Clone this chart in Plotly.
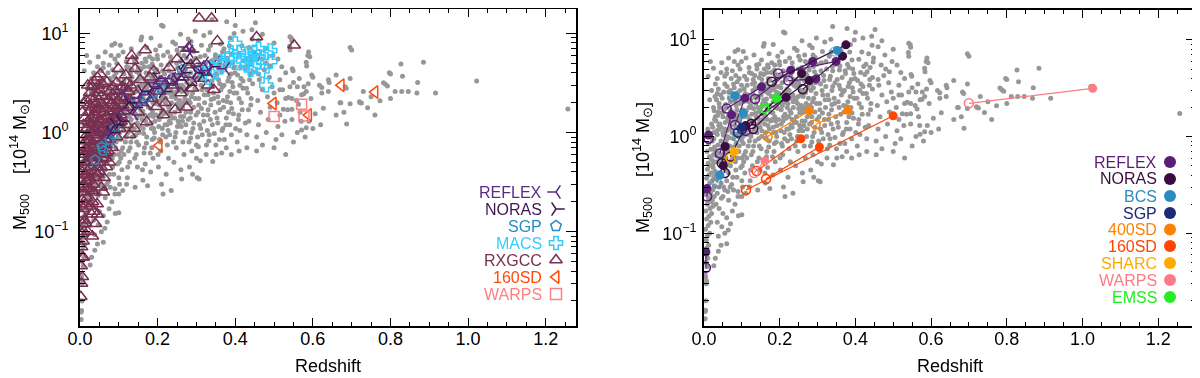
import plotly.graph_objects as go

# ---------------------------------------------------------------- data
# background catalogue (same in both panels), (redshift, M500 [1e14 Msun])
grey_lowz = [
    (0.003, 0.013), (0.004, 0.016), (0.005, 0.02), (0.006, 0.03), (0.004, 0.035), (0.008, 0.045),
    (0.005, 0.05), (0.01, 0.055), (0.004, 0.062), (0.007, 0.07), (0.012, 0.075), (0.006, 0.085),
    (0.009, 0.095), (0.015, 0.1), (0.004, 0.11), (0.011, 0.12), (0.018, 0.13), (0.007, 0.14),
    (0.013, 0.15), (0.02, 0.16), (0.005, 0.17), (0.016, 0.18), (0.024, 0.19), (0.009, 0.2),
    (0.02, 0.21), (0.012, 0.23), (0.027, 0.24), (0.006, 0.25), (0.017, 0.26), (0.023, 0.28),
    (0.01, 0.3), (0.028, 0.31), (0.015, 0.33), (0.021, 0.35), (0.007, 0.37), (0.026, 0.38),
    (0.013, 0.4), (0.019, 0.42), (0.029, 0.44), (0.009, 0.46), (0.024, 0.48), (0.016, 0.5),
    (0.011, 0.53), (0.027, 0.55), (0.02, 0.58), (0.014, 0.62), (0.025, 0.65), (0.008, 0.7),
    (0.018, 0.74), (0.028, 0.78), (0.012, 0.85), (0.022, 0.9), (0.016, 1.0), (0.026, 1.1),
    (0.01, 1.2), (0.02, 1.35), (0.028, 1.5), (0.003, 0.037), (0.007, 0.032), (0.003, 0.0155),
    (0.026, 0.046), (0.03, 0.055), (0.038, 0.065), (0.045, 0.075), (0.06, 0.078), (0.038, 0.093),
    (0.055, 0.1), (0.064, 0.108), (0.047, 0.117), (0.07, 0.125), (0.035, 0.13), (0.091, 0.152),
    (0.082, 0.2), (0.075, 0.17), (0.06, 0.145), (0.05, 0.16), (0.04, 0.18), (0.065, 0.22),
    (0.1, 0.24), (0.09, 0.27), (0.11, 0.26), (0.12, 0.3), (0.1, 0.155), (0.09, 0.24),
    (0.032, 0.2), (0.035, 0.26), (0.04, 0.3), (0.033, 0.36), (0.045, 0.33), (0.05, 0.24),
    (0.055, 0.28), (0.042, 0.42), (0.06, 0.35), (0.048, 0.5), (0.036, 0.55), (0.065, 0.42),
    (0.058, 0.6), (0.07, 0.5), (0.04, 0.68), (0.052, 0.75), (0.075, 0.62), (0.068, 0.8),
    (0.045, 0.9), (0.08, 0.72), (0.062, 1.0), (0.085, 0.85), (0.035, 1.05), (0.074, 1.1),
    (0.055, 1.2), (0.09, 1.0), (0.042, 1.35), (0.066, 1.45), (0.082, 1.3), (0.095, 1.2),
    (0.05, 1.6), (0.075, 1.7), (0.088, 1.55), (0.038, 1.8), (0.06, 2.0), (0.098, 1.8),
    (0.07, 2.3), (0.085, 2.1), (0.048, 2.5), (0.092, 2.6), (0.065, 2.9), (0.08, 3.2),
    (0.055, 3.5), (0.095, 3.0), (0.072, 4.0), (0.088, 3.7), (0.04, 2.2), (0.03, 1.6),
    (0.078, 0.95), (0.058, 0.85), (0.047, 0.65), (0.083, 0.55), (0.092, 0.7), (0.097, 0.48),
    (0.087, 0.38), (0.073, 0.32), (0.063, 0.27), (0.078, 0.28), (0.1, 0.35), (0.1, 0.6),
    (0.1, 0.9), (0.05, 1.1), (0.07, 1.3), (0.04, 1.2), (0.011, 4.2), (0.025, 5.1),
    (0.047, 5.8), (0.082, 7.6), (0.09, 7.9), (0.017, 6.0), (0.02, 3.0), (0.03, 3.5),
    (0.015, 2.4), (0.06, 4.5), (0.095, 5.0), (0.06, 5.0), (0.045, 4.6), (0.09, 5.5),
    (0.08, 6.0), (0.035, 2.8), (0.025, 2.0), (0.065, 1.65), (0.053, 1.9), (0.085, 2.5),
    (0.022, 0.22), (0.027, 0.3), (0.031, 0.4), (0.024, 0.52), (0.033, 0.63), (0.029, 0.71),
    (0.037, 0.82), (0.026, 0.95), (0.034, 1.15), (0.039, 1.3), (0.023, 1.25), (0.032, 1.45),
    (0.036, 1.65), (0.027, 1.85), (0.041, 2.0), (0.033, 2.4), (0.044, 2.7), (0.038, 3.1),
    (0.029, 2.6), (0.046, 0.23), (0.052, 0.3), (0.043, 0.38), (0.057, 0.45), (0.049, 0.55),
    (0.061, 0.52), (0.044, 0.6), (0.054, 0.68), (0.063, 0.73), (0.048, 0.8), (0.059, 0.92),
    (0.066, 0.97), (0.051, 1.03), (0.06, 1.15), (0.045, 1.25), (0.068, 1.2), (0.056, 1.4),
    (0.062, 1.55), (0.048, 1.75), (0.071, 1.85), (0.057, 2.15), (0.067, 2.5), (0.052, 2.9),
    (0.074, 2.75), (0.061, 3.3), (0.078, 3.5), (0.069, 0.3), (0.076, 0.38), (0.084, 0.45),
    (0.071, 0.56), (0.089, 0.6), (0.079, 0.78), (0.093, 0.8), (0.082, 1.05), (0.096, 1.05),
    (0.086, 1.25), (0.079, 1.45), (0.093, 1.45), (0.084, 1.7), (0.099, 1.6), (0.087, 1.9),
    (0.094, 2.2), (0.081, 2.35), (0.098, 2.45), (0.089, 2.85), (0.099, 3.4), (0.084, 4.3),
    (0.093, 4.0), (0.075, 4.8), (0.099, 6.0), (0.065, 6.5), (0.035, 4.0), (0.055, 4.2),
    (0.07, 3.0),
]

grey_midz = [
    (0.102, 0.3), (0.108, 0.42), (0.105, 0.55), (0.11, 0.7), (0.104, 0.85), (0.112, 1.05),
    (0.106, 1.3), (0.115, 1.6), (0.103, 1.9), (0.118, 2.3), (0.109, 2.8), (0.114, 3.4),
    (0.107, 4.2), (0.119, 5.2), (0.111, 6.5), (0.104, 7.6),
    (0.122, 0.35), (0.128, 0.5), (0.125, 0.65), (0.131, 0.8), (0.124, 1.0), (0.133, 1.2),
    (0.127, 1.45), (0.136, 1.75), (0.123, 2.1), (0.138, 2.5), (0.129, 3.0), (0.134, 3.6),
    (0.126, 4.5), (0.139, 5.5), (0.132, 7.0),
    (0.142, 0.28), (0.148, 0.45), (0.145, 0.6), (0.151, 0.75), (0.144, 0.95), (0.153, 1.15),
    (0.147, 1.4), (0.156, 1.7), (0.143, 2.0), (0.158, 2.4), (0.149, 2.9), (0.154, 3.5),
    (0.146, 4.1), (0.159, 5.0), (0.152, 6.2), (0.157, 8.6), (0.159, 9.2),
    (0.162, 0.33), (0.168, 0.48), (0.165, 0.62), (0.171, 0.78), (0.164, 0.98), (0.173, 1.2),
    (0.167, 1.5), (0.176, 1.8), (0.163, 2.2), (0.178, 2.6), (0.169, 3.1), (0.174, 3.8),
    (0.166, 4.6), (0.179, 5.8), (0.172, 7.2),
    (0.174, 0.29), (0.182, 0.4), (0.188, 0.55), (0.185, 0.7), (0.191, 0.88), (0.184, 1.1),
    (0.193, 1.3), (0.187, 1.6), (0.196, 1.95), (0.183, 2.3), (0.198, 2.8), (0.189, 3.3),
    (0.194, 4.0), (0.186, 4.9), (0.199, 6.0), (0.183, 9.0),
    (0.115, 1.2), (0.125, 2.0), (0.135, 2.6), (0.145, 1.8), (0.155, 2.2), (0.165, 2.9),
    (0.175, 3.3), (0.185, 3.6), (0.195, 2.4), (0.12, 0.9), (0.14, 1.1), (0.16, 1.35),
    (0.18, 1.5), (0.19, 1.1), (0.13, 3.9), (0.15, 4.5), (0.17, 5.2), (0.19, 4.4),
    (0.101, 0.5), (0.106, 0.65), (0.113, 0.6), (0.117, 0.8), (0.103, 1.0), (0.109, 1.15),
    (0.116, 1.35), (0.121, 1.5), (0.105, 1.6), (0.112, 1.85), (0.119, 2.0), (0.104, 2.3),
    (0.111, 2.5), (0.117, 2.7), (0.106, 3.1), (0.113, 3.9), (0.12, 4.6), (0.123, 0.45),
    (0.129, 0.7), (0.135, 0.9), (0.127, 1.1), (0.132, 1.35), (0.138, 1.6), (0.126, 1.7),
    (0.131, 1.95), (0.137, 2.2), (0.124, 2.4), (0.13, 2.75), (0.136, 3.2), (0.128, 3.5),
    (0.134, 4.3), (0.14, 5.0), (0.141, 0.55), (0.146, 0.8), (0.152, 1.0), (0.148, 1.25),
    (0.155, 1.5), (0.143, 1.55), (0.149, 1.9), (0.153, 2.05), (0.158, 2.15), (0.144, 2.6),
    (0.151, 2.7), (0.157, 3.0), (0.147, 3.3), (0.153, 3.9), (0.158, 4.4), (0.145, 5.6),
    (0.161, 0.42), (0.166, 0.7), (0.172, 0.9), (0.163, 1.1), (0.169, 1.3), (0.176, 1.45),
    (0.162, 1.65), (0.168, 1.95), (0.174, 2.1), (0.165, 2.45), (0.171, 2.8), (0.177, 3.0),
    (0.164, 3.5), (0.17, 4.0), (0.178, 4.6), (0.168, 5.5), (0.181, 0.62), (0.186, 0.85),
    (0.192, 1.0), (0.183, 1.25), (0.189, 1.45), (0.197, 1.5), (0.182, 1.75), (0.188, 2.0),
    (0.194, 2.2), (0.185, 2.6), (0.191, 2.9), (0.197, 3.3), (0.184, 3.1), (0.19, 3.8),
    (0.198, 4.3), (0.187, 5.5), (0.195, 6.8),
    (0.202, 0.45), (0.208, 0.65), (0.205, 0.85), (0.212, 1.1), (0.204, 1.35), (0.214, 1.7),
    (0.207, 2.1), (0.216, 2.6), (0.203, 3.2), (0.218, 3.9), (0.209, 4.8), (0.215, 6.0),
    (0.206, 7.5), (0.214, 11.8), (0.21, 12.1),
    (0.222, 0.38), (0.228, 0.55), (0.225, 0.75), (0.231, 0.95), (0.224, 1.2), (0.233, 1.5),
    (0.227, 1.85), (0.236, 2.3), (0.223, 2.8), (0.238, 3.4), (0.229, 4.2), (0.234, 5.2),
    (0.226, 6.5), (0.239, 8.2),
    (0.242, 0.5), (0.248, 0.7), (0.245, 0.9), (0.251, 1.15), (0.244, 1.4), (0.253, 1.75),
    (0.247, 2.2), (0.256, 2.7), (0.243, 3.3), (0.258, 4.0), (0.249, 5.0), (0.254, 6.2),
    (0.246, 7.8), (0.259, 9.8),
    (0.262, 0.34), (0.268, 0.6), (0.265, 0.8), (0.271, 1.0), (0.264, 1.3), (0.273, 1.6),
    (0.267, 2.0), (0.276, 2.5), (0.263, 3.0), (0.278, 3.7), (0.269, 4.5), (0.274, 5.6),
    (0.266, 7.0), (0.279, 8.8),
    (0.282, 0.45), (0.288, 0.65), (0.285, 0.88), (0.291, 1.1), (0.284, 1.4), (0.293, 1.8),
    (0.287, 2.3), (0.296, 2.8), (0.283, 3.5), (0.298, 4.3), (0.289, 5.3), (0.294, 6.6),
    (0.286, 8.3), (0.297, 10.5),
    (0.21, 0.3), (0.235, 0.26), (0.26, 0.42), (0.29, 0.38), (0.22, 2.0), (0.24, 2.5),
    (0.26, 1.9), (0.28, 2.1), (0.25, 3.6), (0.27, 4.1), (0.23, 1.3), (0.21, 1.6),
    (0.255, 1.2), (0.285, 1.6), (0.3, 0.55), (0.3, 0.75), (0.214, 0.24),
    (0.201, 0.6), (0.207, 0.8), (0.213, 0.95), (0.219, 1.2), (0.203, 1.15), (0.209, 1.45),
    (0.216, 1.55), (0.204, 1.9), (0.211, 2.3), (0.218, 2.25), (0.205, 2.6), (0.212, 2.9),
    (0.219, 3.1), (0.206, 3.6), (0.213, 4.2), (0.2, 5.5), (0.221, 0.9), (0.227, 1.05),
    (0.233, 1.25), (0.239, 1.4), (0.224, 1.6), (0.23, 1.75), (0.236, 2.0), (0.222, 2.2),
    (0.228, 2.5), (0.235, 2.7), (0.225, 3.0), (0.231, 3.6), (0.237, 3.9), (0.227, 4.8),
    (0.233, 5.8), (0.241, 0.8), (0.247, 1.0), (0.253, 1.3), (0.259, 1.45), (0.244, 1.6),
    (0.25, 1.95), (0.257, 2.1), (0.243, 2.4), (0.249, 2.6), (0.255, 3.0), (0.245, 3.6),
    (0.252, 4.5), (0.258, 5.2), (0.25, 6.8), (0.261, 1.15), (0.267, 1.45), (0.273, 1.2),
    (0.279, 1.35), (0.264, 1.8), (0.27, 2.2), (0.277, 2.0), (0.262, 2.6), (0.268, 2.85),
    (0.275, 3.2), (0.265, 3.8), (0.272, 4.3), (0.278, 4.9), (0.268, 6.0), (0.281, 0.8),
    (0.287, 1.0), (0.293, 1.25), (0.299, 1.5), (0.284, 2.0), (0.29, 2.5), (0.297, 2.2),
    (0.283, 3.0), (0.289, 3.2), (0.295, 3.6), (0.285, 4.0), (0.292, 4.7), (0.298, 5.6),
    (0.288, 7.0),
]

grey_highz = [
    (0.302, 0.35), (0.31, 0.52), (0.305, 0.72), (0.315, 0.95), (0.308, 1.2), (0.318, 1.5),
    (0.306, 1.9), (0.32, 2.4), (0.312, 3.0), (0.317, 3.8), (0.309, 4.8), (0.322, 6.0),
    (0.313, 7.6), (0.319, 9.5), (0.307, 0.34),
    (0.325, 0.6), (0.332, 0.82), (0.328, 1.05), (0.336, 1.35), (0.33, 1.7), (0.338, 2.15),
    (0.327, 2.7), (0.34, 3.3), (0.334, 4.2), (0.339, 5.3), (0.331, 6.8), (0.34, 13.8),
    (0.335, 10.2),
    (0.342, 0.51), (0.35, 0.75), (0.346, 0.98), (0.355, 1.25), (0.348, 1.6), (0.357, 2.0),
    (0.344, 2.5), (0.36, 3.1), (0.352, 3.9), (0.358, 4.9), (0.349, 6.1), (0.362, 7.8),
    (0.365, 0.62), (0.372, 0.85), (0.368, 1.1), (0.377, 1.4), (0.37, 1.8), (0.38, 2.3),
    (0.367, 2.9), (0.384, 3.6), (0.374, 4.5), (0.379, 5.6), (0.371, 7.0), (0.378, 13.1),
    (0.387, 9.0), (0.377, 0.7),
    (0.39, 0.95), (0.386, 1.2), (0.395, 1.55), (0.388, 2.0), (0.397, 2.5), (0.392, 3.2),
    (0.399, 4.0), (0.393, 5.0), (0.397, 10.0),
    (0.405, 0.8), (0.412, 1.05), (0.408, 1.35), (0.418, 1.7), (0.41, 2.2), (0.42, 2.8),
    (0.415, 3.5), (0.425, 4.4), (0.43, 0.95), (0.435, 1.3), (0.44, 1.9), (0.432, 2.5),
    (0.445, 3.1), (0.438, 3.9), (0.443, 10.9), (0.452, 12.8), (0.428, 5.6), (0.448, 6.5),
    (0.303, 0.9), (0.311, 1.1), (0.319, 1.3), (0.304, 1.6), (0.313, 1.75), (0.321, 2.0),
    (0.306, 2.2), (0.314, 2.7), (0.322, 3.3), (0.308, 3.5), (0.316, 4.3), (0.324, 5.0),
    (0.31, 5.8), (0.326, 0.75), (0.333, 0.95), (0.341, 1.2), (0.329, 1.5), (0.337, 1.9),
    (0.345, 2.2), (0.33, 2.4), (0.338, 3.0), (0.346, 3.6), (0.332, 3.9), (0.34, 4.8),
    (0.348, 5.6), (0.336, 7.5), (0.351, 0.6), (0.359, 0.85), (0.366, 1.05), (0.353, 1.4),
    (0.361, 1.7), (0.369, 2.1), (0.355, 2.3), (0.363, 2.7), (0.371, 3.0), (0.357, 3.4),
    (0.365, 4.1), (0.373, 4.8), (0.359, 5.4), (0.367, 6.5), (0.376, 1.2), (0.383, 1.6),
    (0.391, 1.75), (0.378, 2.05), (0.386, 2.6), (0.394, 2.9), (0.381, 3.3), (0.389, 3.9),
    (0.396, 4.5), (0.383, 5.2), (0.391, 6.2), (0.385, 7.5), (0.401, 1.1), (0.409, 1.5),
    (0.416, 2.0), (0.404, 2.5), (0.412, 3.0), (0.42, 3.3), (0.406, 3.8), (0.414, 4.6),
    (0.422, 5.3), (0.409, 6.3), (0.417, 7.5), (0.426, 1.25), (0.434, 1.7), (0.441, 2.2),
    (0.429, 2.8), (0.437, 3.4), (0.445, 4.1), (0.431, 4.7), (0.439, 5.2), (0.447, 5.9),
    (0.435, 7.2), (0.444, 8.8), (0.42, 10.5), (0.4, 12.0), (0.43, 0.7), (0.39, 0.6),
    (0.41, 0.65),
    (0.455, 0.9), (0.46, 1.2), (0.465, 1.6), (0.458, 2.1), (0.47, 2.7), (0.462, 3.4),
    (0.475, 4.3), (0.468, 5.5), (0.478, 7.0),
    (0.48, 1.0), (0.485, 1.35), (0.49, 1.8), (0.483, 2.3), (0.495, 2.9), (0.488, 3.6),
    (0.49, 4.7), (0.497, 6.0),
    (0.505, 0.85), (0.51, 1.15), (0.515, 1.5), (0.508, 2.0), (0.515, 2.7), (0.522, 2.7),
    (0.515, 3.4), (0.52, 4.6),
    (0.528, 1.3), (0.535, 1.7), (0.537, 2.26), (0.541, 2.9), (0.546, 2.2), (0.541, 9.25),
    (0.546, 8.4), (0.541, 6.8), (0.545, 8.9), (0.54, 7.4), (0.547, 4.4), (0.549, 4.2),
    (0.55, 3.2), (0.524, 1.72), (0.546, 1.72), (0.546, 1.35), (0.558, 2.1), (0.56, 2.9),
    (0.563, 1.93), (0.567, 1.6), (0.571, 1.06), (0.571, 2.4), (0.576, 2.44), (0.577, 2.9),
    (0.583, 1.12), (0.583, 2.6), (0.583, 5.1), (0.587, 6.0), (0.588, 3.1), (0.589, 6.5),
    (0.592, 5.8), (0.597, 3.8), (0.584, 4.7), (0.6, 3.6),
    (0.455, 0.65), (0.47, 0.75), (0.5, 0.7), (0.52, 0.95), (0.53, 0.6), (0.55, 0.8),
    (0.56, 1.0), (0.58, 0.9), (0.6, 1.1), (0.46, 8.5), (0.47, 9.8), (0.5, 8.0),
    (0.48, 5.0), (0.51, 5.5), (0.53, 4.0), (0.565, 3.5), (0.46, 3.9), (0.5, 2.5),
    (0.53, 2.2), (0.57, 1.3), (0.595, 2.2), (0.59, 1.3),
    (0.606, 1.55), (0.617, 3.0), (0.623, 2.85), (0.623, 2.5), (0.627, 1.76), (0.64, 3.4),
    (0.642, 3.2), (0.67, 2.0), (0.672, 2.0), (0.683, 2.9), (0.686, 2.8), (0.687, 1.22),
    (0.696, 3.5), (0.696, 7.2), (0.696, 1.95), (0.70, 6.8), (0.72, 2.04), (0.722, 2.0),
    (0.725, 1.98), (0.741, 1.78), (0.773, 2.09), (0.782, 3.18), (0.787, 3.06), (0.792, 2.95),
    (0.797, 4.0), (0.80, 3.9), (0.812, 2.6), (0.827, 4.9), (0.829, 2.6), (0.831, 3.7),
    (0.846, 2.6), (0.868, 2.5), (0.885, 5.1), (0.916, 2.5), (1.022, 3.3), (1.257, 1.73),
    (0.66, 1.5), (0.75, 2.3), (0.62, 1.2), (0.64, 2.6), (0.66, 3.8), (0.68, 1.6),
    (0.73, 2.6), (0.76, 1.5), (0.8, 2.2), (0.87, 3.2),
]

# left panel: individual surveys
rxgcc = [
    (0.002, 0.022), (0.004, 0.03), (0.003, 0.045), (0.006, 0.055), (0.004, 0.07), (0.008, 0.08),
    (0.005, 0.095), (0.01, 0.1), (0.007, 0.12), (0.012, 0.13), (0.004, 0.15), (0.015, 0.12),
    (0.02, 0.1), (0.032, 0.09), (0.009, 0.17), (0.014, 0.19), (0.006, 0.21), (0.018, 0.22),
    (0.011, 0.25), (0.022, 0.27), (0.008, 0.3), (0.016, 0.32), (0.025, 0.35), (0.012, 0.38),
    (0.02, 0.41), (0.028, 0.45), (0.015, 0.5), (0.024, 0.55), (0.01, 0.6), (0.03, 0.62),
    (0.019, 0.68), (0.027, 0.75), (0.014, 0.82), (0.022, 0.9), (0.03, 1.0), (0.018, 1.1),
    (0.026, 1.25), (0.012, 1.4), (0.022, 1.6), (0.03, 1.8), (0.017, 2.1), (0.025, 2.5),
    (0.02, 3.0),
    (0.032, 0.2), (0.036, 0.25), (0.034, 0.3), (0.04, 0.35), (0.038, 0.4), (0.045, 0.45),
    (0.035, 0.5), (0.042, 0.56), (0.05, 0.6), (0.038, 0.66), (0.046, 0.72), (0.054, 0.8),
    (0.041, 0.88), (0.049, 0.95), (0.036, 1.05), (0.057, 1.1), (0.044, 1.2), (0.052, 1.35),
    (0.039, 1.5), (0.058, 1.6), (0.047, 1.75), (0.055, 2.0), (0.042, 2.3), (0.05, 2.7),
    (0.058, 3.1), (0.045, 3.6), (0.035, 0.16), (0.044, 0.19), (0.055, 0.28), (0.05, 0.4),
    (0.062, 0.35), (0.068, 0.45), (0.065, 0.55), (0.072, 0.65), (0.066, 0.75), (0.075, 0.85),
    (0.069, 0.95), (0.078, 1.1), (0.064, 1.2), (0.082, 1.3), (0.071, 1.45), (0.086, 1.6),
    (0.067, 1.75), (0.08, 1.9), (0.074, 2.1), (0.09, 2.3), (0.077, 2.6), (0.085, 2.9),
    (0.069, 3.25), (0.095, 1.8), (0.092, 1.4), (0.088, 1.05), (0.099, 4.4), (0.083, 0.7),
    (0.076, 0.5), (0.095, 0.9), (0.1, 1.25), (0.06, 0.25),
    (0.003, 0.27), (0.006, 0.4), (0.004, 0.55), (0.008, 0.75), (0.005, 0.95), (0.009, 1.2),
    (0.006, 1.6), (0.01, 2.0), (0.013, 0.6), (0.016, 0.7), (0.018, 0.95), (0.021, 1.3),
    (0.024, 1.9), (0.028, 2.2), (0.031, 2.9), (0.035, 3.3), (0.011, 0.45), (0.017, 0.37),
    (0.023, 0.65), (0.027, 0.58), (0.032, 0.8), (0.034, 1.2), (0.038, 1.35), (0.041, 1.7),
    (0.043, 1.95), (0.046, 2.5), (0.048, 3.0), (0.052, 3.9), (0.056, 2.35), (0.059, 1.9),
    (0.061, 1.35), (0.063, 1.0), (0.066, 0.85), (0.068, 0.62), (0.072, 0.95), (0.074, 1.25),
    (0.076, 1.6), (0.079, 2.3), (0.081, 2.0), (0.084, 1.4), (0.087, 1.2), (0.089, 1.85),
    (0.091, 2.6), (0.094, 3.2), (0.097, 2.1), (0.099, 1.6), (0.103, 1.1), (0.106, 1.3),
    (0.109, 2.3), (0.113, 1.65), (0.116, 2.8), (0.12, 3.2), (0.124, 1.8), (0.127, 2.1),
    (0.046, 0.38), (0.051, 0.5), (0.054, 0.45), (0.058, 0.55), (0.062, 0.6), (0.035, 0.7),
    (0.039, 0.95), (0.043, 1.05), (0.048, 1.3), (0.053, 1.05), (0.025, 0.85), (0.029, 1.4),
    (0.02, 0.5), (0.015, 0.28), (0.022, 0.33), (0.026, 0.18), (0.03, 0.15), (0.009, 0.055),
    (0.006, 0.035), (0.04, 0.12), (0.045, 0.15), (0.03, 0.26),
    (0.105, 1.5), (0.11, 1.9), (0.115, 2.2), (0.12, 1.2), (0.125, 2.6), (0.13, 3.0),
    (0.133, 6.0), (0.135, 5.3), (0.142, 4.4), (0.145, 2.4), (0.15, 1.6), (0.155, 3.4),
    (0.16, 2.0), (0.168, 6.8), (0.172, 1.28), (0.175, 2.8), (0.18, 3.6), (0.185, 2.2),
    (0.19, 4.2), (0.197, 1.82), (0.118, 3.8), (0.128, 0.95), (0.14, 1.1), (0.108, 2.9),
    (0.205, 2.6), (0.21, 3.3), (0.22, 2.0), (0.23, 4.5), (0.24, 3.0), (0.25, 5.5),
    (0.26, 2.5), (0.265, 3.6), (0.275, 1.8), (0.28, 7.2), (0.285, 4.8), (0.29, 2.8),
    (0.3, 5.0), (0.307, 14.2), (0.339, 14.2), (0.354, 8.4), (0.31, 3.5), (0.32, 4.2),
    (0.33, 3.0), (0.345, 2.7), (0.36, 5.3), (0.455, 9.2), (0.552, 7.6), (0.215, 1.5),
    (0.245, 1.7),
]
reflex_l = [
    (0.069, 0.94), (0.099, 1.55), (0.112, 2.5), (0.137, 1.55), (0.15, 2.2), (0.18, 2.4),
    (0.206, 2.9), (0.22, 3.3), (0.235, 3.5), (0.245, 3.0), (0.275, 7.3), (0.28, 6.6),
    (0.29, 3.6), (0.309, 4.6), (0.32, 5.0), (0.33, 4.2), (0.374, 4.4), (0.195, 3.2),
    (0.26, 3.9), (0.17, 2.0),
]
noras_l = [
    (0.08, 1.0), (0.105, 1.3), (0.125, 2.0), (0.16, 2.6), (0.185, 2.8), (0.2, 3.5),
    (0.215, 2.6), (0.23, 3.1), (0.25, 3.4), (0.265, 4.0), (0.28, 3.0), (0.3, 4.0),
    (0.315, 3.8), (0.34, 4.6), (0.285, 6.5), (0.27, 5.0), (0.14, 1.8), (0.09, 1.2),
]
sgp_l = [
    (0.039, 0.53), (0.056, 0.72), (0.077, 0.84), (0.09, 1.1), (0.146, 2.0), (0.172, 2.3),
    (0.19, 2.5), (0.21, 2.8), (0.262, 4.3), (0.451, 5.8), (0.085, 0.95), (0.06, 0.65),
]
macs = [
    (0.33, 3.6), (0.32, 4.0), (0.34, 4.4), (0.36, 5.2), (0.38, 5.6), (0.39, 6.0), (0.40, 7.9),
    (0.41, 5.0), (0.42, 5.3), (0.43, 4.9), (0.43, 6.2), (0.44, 5.5), (0.45, 4.6), (0.45, 6.5),
    (0.46, 5.8), (0.47, 4.2), (0.48, 6.3), (0.49, 6.7), (0.49, 5.2), (0.44, 4.3), (0.48, 3.0),
    (0.41, 6.5), (0.46, 7.0), (0.37, 4.8), (0.35, 4.1),
]
sd160_l = [(0.204, 0.74), (0.498, 1.96), (0.589, 1.5), (0.673, 3.0), (0.760, 2.56)]
warps_l = [(0.50, 1.45), (0.571, 1.93), (0.577, 1.47)]

# right panel: same clusters in two surveys -> (z_open, M_open, z_filled, M_filled)
reflex_r = [
    (0.042, 0.67, 0.073, 1.68), (0.06, 1.95, 0.152, 3.27), (0.135, 2.45, 0.229, 4.85),
    (0.196, 4.5, 0.349, 6.0), (0.223, 3.8, 0.296, 3.95), (0.008, 0.24, 0.008, 0.29),
    (0.005, 0.044, 0.005, 0.064), (0.082, 1.32, 0.108, 2.5), (0.012, 0.95, 0.012, 1.04),
    (0.11, 1.15, 0.287, 6.0),
]
noras_r = [
    (0.047, 0.53, 0.056, 0.79), (0.055, 0.42, 0.051, 0.5), (0.179, 3.7, 0.375, 8.9),
    (0.261, 3.1, 0.366, 6.8), (0.125, 1.35, 0.258, 4.5), (0.13, 1.2, 0.217, 2.55),
    (0.10, 1.2, 0.278, 3.8), (0.07, 0.62, 0.11, 1.3),
]
bcs_r = [(0.034, 0.33, 0.042, 0.40), (0.086, 1.0, 0.104, 1.74), (0.346, 7.6, 0.352, 7.8),
         (0.075, 2.6, 0.082, 2.65)]
sgp_r = [(0.09, 1.1, 0.1, 1.25)]
sd400_r = [(0.168, 1.0, 0.278, 1.85), (0.295, 1.34, 0.38, 1.87)]
sd160_r = [(0.139, 0.44, 0.256, 0.95), (0.164, 0.365, 0.305, 0.78), (0.111, 0.28, 0.50, 1.64)]
sharc_r = [(0.07, 0.60, 0.08, 0.70)]
warps_r = [(0.132, 0.42, 0.161, 0.56), (0.70, 2.21, 1.027, 3.16)]
emss_r = [(0.159, 1.96, 0.192, 2.49)]

left_names = ["REFLEX", "NORAS", "SGP", "MACS", "RXGCC", "160SD", "WARPS"]
left_colors = ["#5c2a84", "#3d1852", "#2a8cc4", "#33ccff", "#7a2e50", "#ff4a0a", "#ff8080"]
left_symbols = ["y-left", "y-right", "pentagon-open", "cross-open", "triangle-up-open",
                "triangle-left-open", "square-open"]
right_names = ["REFLEX", "NORAS", "BCS", "SGP", "400SD", "160SD", "SHARC", "WARPS", "EMSS"]
right_colors = ["#5a1e78", "#3a0d40", "#2a8cc0", "#1c2a78", "#ff8000", "#ff4500", "#ffaa00",
                "#ff7b85", "#22ee22"]

# ---------------------------------------------------------------- figure
W, H = 1200, 378
OFF = 8          # the page puts the plot 8 px in from the window corner
FONT = "Liberation Sans"
GREY = "#979797"


def px(sx):
    """window x pixel -> paper fraction"""
    return (sx - OFF) / W


def py(sy):
    """window y pixel -> paper fraction"""
    return 1 - (sy - OFF) / H


fig = go.Figure()

grey = grey_lowz + grey_midz + grey_highz
gz = [p[0] for p in grey]
gm = [p[1] for p in grey]
for xa, ya in (("x", "y"), ("x2", "y2")):
    fig.add_trace(go.Scatter(x=gz, y=gm, mode="markers", xaxis=xa, yaxis=ya,
                             marker=dict(color=GREY, size=5, line=dict(width=0))))

# left panel
left_sets = [reflex_l, noras_l, sgp_l, macs, rxgcc, sd160_l, warps_l]
left_sizes = [11, 11, 10, 11, 11, 11, 10]
order = [4, 2, 3, 1, 0, 5, 6]
for i in order:
    pts = left_sets[i]
    fig.add_trace(go.Scatter(
        x=[p[0] for p in pts], y=[p[1] for p in pts], mode="markers", xaxis="x", yaxis="y",
        marker=dict(symbol=left_symbols[i], size=left_sizes[i], color=left_colors[i],
                    line=dict(color=left_colors[i], width=1.5))))

# right panel
right_sets = [reflex_r, noras_r, bcs_r, sgp_r, sd400_r, sd160_r, sharc_r, warps_r, emss_r]
for pairs, col in zip(right_sets, right_colors):
    lx, ly = [], []
    for z0, m0, z1, m1 in pairs:
        lx += [z0, z1, None]
        ly += [m0, m1, None]
    fig.add_trace(go.Scatter(x=lx, y=ly, mode="lines", xaxis="x2", yaxis="y2",
                             line=dict(color=col, width=1.2)))
    open_op = 0.5 if col == "#2a8cc0" else 1
    fig.add_trace(go.Scatter(
        x=[p[0] for p in pairs], y=[p[1] for p in pairs], mode="markers", xaxis="x2", yaxis="y2",
        opacity=open_op,
        marker=dict(symbol="circle-open", size=9, color=col, line=dict(color=col, width=1.6))))
    fig.add_trace(go.Scatter(
        x=[p[2] for p in pairs], y=[p[3] for p in pairs], mode="markers", xaxis="x2", yaxis="y2",
        marker=dict(symbol="circle", size=9, color=col, line=dict(width=0))))

# legends: text + key symbol to its right (pixel positions on an overlay axis)
annotations = []
left_rows = [192, 209, 226, 243, 260, 277, 294]
for name, col, yy in zip(left_names, left_colors, left_rows):
    annotations.append(dict(x=px(544), y=py(yy), xref="paper", yref="paper", text=name,
                            showarrow=False, xanchor="right", yanchor="middle",
                            font=dict(family=FONT, size=16, color=col)))
fig.add_trace(go.Scatter(
    x=[556 - OFF] * len(left_rows), y=[r - OFF for r in left_rows], mode="markers",
    xaxis="x3", yaxis="y3",
    marker=dict(symbol=left_symbols, size=11, color=left_colors,
                line=dict(color=left_colors, width=1.5))))

right_rows = [162, 179, 196, 213, 229.5, 246, 263, 280, 297]
for name, col, yy in zip(right_names, right_colors, right_rows):
    annotations.append(dict(x=px(1159), y=py(yy), xref="paper", yref="paper", text=name,
                            showarrow=False, xanchor="right", yanchor="middle",
                            font=dict(family=FONT, size=16, color=col)))
fig.add_trace(go.Scatter(
    x=[1170 - OFF] * len(right_rows), y=[r - OFF for r in right_rows], mode="markers",
    xaxis="x3", yaxis="y3",
    marker=dict(symbol="circle", size=12, color=right_colors, line=dict(width=0))))

# axis titles
ytitle = "M<sub>500</sub>    [10<sup>14</sup> M<sub>⊙</sub>]"
for xc, x_t, yc in ((328, 19, 165), (950, 642, 168)):
    annotations.append(dict(x=px(xc), y=py(366), xref="paper", yref="paper", text="Redshift",
                            showarrow=False, xanchor="center", yanchor="middle",
                            font=dict(family=FONT, size=18, color="black")))
    annotations.append(dict(x=px(x_t), y=py(yc), xref="paper", yref="paper", text=ytitle,
                            showarrow=False, textangle=-90, xanchor="center", yanchor="middle",
                            font=dict(family=FONT, size=18, color="black")))

minor_vals = [k * 10 ** e for e in (-2, -1, 0, 1) for k in range(2, 10)]
xaxis_style = dict(showgrid=False, zeroline=False, showline=True, linecolor="black", linewidth=1.6,
                   mirror="ticks", ticks="inside", ticklen=8, tickwidth=1.4, tickcolor="black",
                   dtick=0.2, tickformat=".1f", ticklabelstandoff=-4, automargin=False,
                   tickfont=dict(family=FONT, size=18, color="black"),
                   minor=dict(dtick=0.05, ticks="inside", ticklen=4, tickwidth=1.2,
                              tickcolor="black", showgrid=False))
yaxis_style = dict(type="log", showgrid=False, zeroline=False, showline=True, linecolor="black",
                   linewidth=1.6, mirror="ticks", ticks="inside", ticklen=10, tickwidth=1.4,
                   tickcolor="black", tickvals=[0.1, 1, 10], automargin=False,
                   ticktext=["10<sup>−1</sup>", "10<sup>0</sup>", "10<sup>1</sup>"],
                   tickfont=dict(family=FONT, size=18, color="black"),
                   minor=dict(tickvals=minor_vals, ticks="inside", ticklen=5, tickwidth=1.2,
                              tickcolor="black", showgrid=False))

fig.update_layout(
    width=W, height=H, showlegend=False,
    margin=dict(l=0, r=0, t=0, b=0, autoexpand=False),
    paper_bgcolor="white", plot_bgcolor="rgba(0,0,0,0)",
    # left panel: window x 80..576, y 9..326 ; right panel: x 704..1196, y 10..326
    xaxis=dict(domain=[px(80), px(576)], range=[0, 1.278], anchor="y", **xaxis_style),
    yaxis=dict(domain=[py(326), py(9)], range=[-1.952, 1.246], anchor="x",
               ticklabelstandoff=6, **yaxis_style),
    xaxis2=dict(domain=[px(704), px(1196)], range=[0, 1.30], anchor="y2", **xaxis_style),
    yaxis2=dict(domain=[py(326), py(10)], range=[-1.96, 1.31], anchor="x2",
                ticklabelstandoff=2, **yaxis_style),
    xaxis3=dict(domain=[0, 1], range=[0, W], anchor="y3", visible=False, fixedrange=True,
                automargin=False),
    yaxis3=dict(domain=[0, 1], range=[H, 0], anchor="x3", visible=False, fixedrange=True,
                automargin=False),
    annotations=annotations,
)

fig.write_html("out.html")
